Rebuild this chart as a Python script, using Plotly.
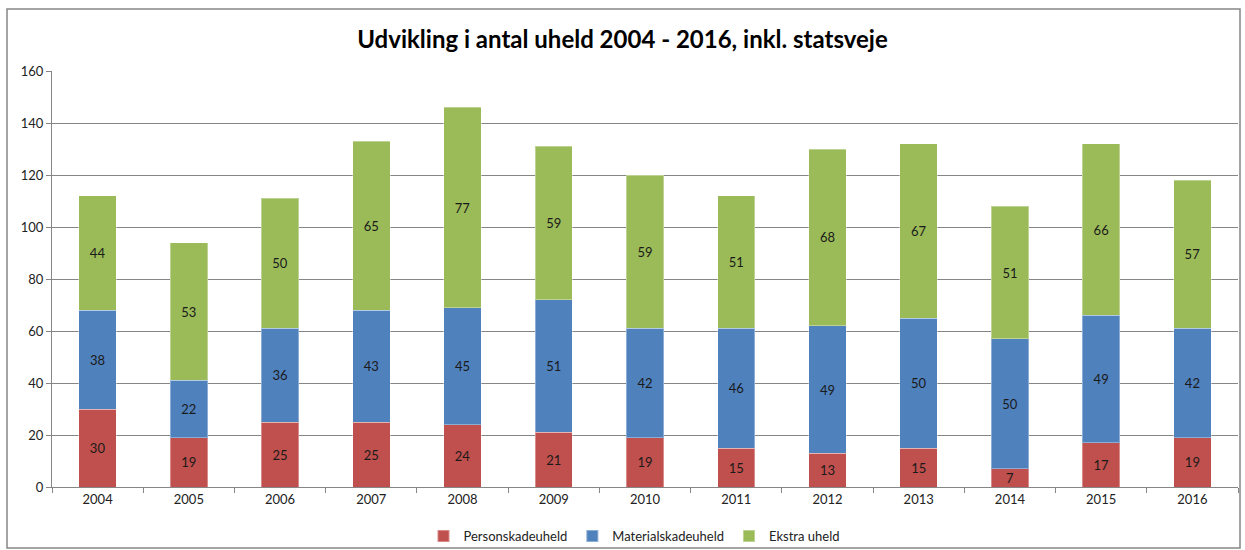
import plotly.graph_objects as go

years = ["2004", "2005", "2006", "2007", "2008", "2009", "2010", "2011", "2012", "2013", "2014", "2015", "2016"]
personskade = [30, 19, 25, 25, 24, 21, 19, 15, 13, 15, 7, 17, 19]
materialskade = [38, 22, 36, 43, 45, 51, 42, 46, 49, 50, 50, 49, 42]
ekstra = [44, 53, 50, 65, 77, 59, 59, 51, 68, 67, 51, 66, 57]

series = [
    ("Personskadeuheld", personskade, "#C0504D"),
    ("Materialskadeuheld", materialskade, "#4F81BD"),
    ("Ekstra uheld", ekstra, "#9BBB59"),
]

FONT = "Lato, Carlito, 'Open Sans', sans-serif"

fig = go.Figure()
for name, vals, color in series:
    fig.add_trace(go.Bar(
        x=years, y=vals, name=name,
        marker=dict(color=color, line=dict(color="rgba(255,255,255,0.35)", width=1)),
        text=vals, textposition="inside", insidetextanchor="middle", textangle=0,
        textfont=dict(color="#1a1a1a", size=13, family=FONT),
        constraintext="none",
    ))

W, H = 1245, 550
L, R, T, B = 52, 7, 71, 63
pw, ph = W - L - R, H - T - B

def px2x(px):
    return (px - L) / pw

def px2y(py):
    return (H - B - py) / ph

fig.update_layout(
    width=W, height=H,
    barmode="stack",
    bargap=0.59,
    margin=dict(l=L, r=R, t=T, b=B, autoexpand=False),
    paper_bgcolor="white",
    plot_bgcolor="white",
    font=dict(family=FONT, size=13, color="#222"),
    title=dict(text="<b>Udvikling i antal uheld 2004 - 2016, inkl. statsveje</b>",
               x=0.5, xanchor="center", y=1 - 40 / H, yanchor="middle",
               font=dict(size=24, color="#000", family=FONT)),
    legend=dict(orientation="h", x=px2x(634), xanchor="center", y=px2y(536), yanchor="middle",
                font=dict(size=13, color="#222"), itemsizing="constant",
                bgcolor="rgba(0,0,0,0)",
                traceorder="normal", itemwidth=30),
    xaxis=dict(showgrid=False, showline=True, linecolor="#868686", linewidth=1,
               ticks="outside", ticklen=5, tickcolor="#868686", tickson="boundaries",
               tickfont=dict(size=13, color="#222"), automargin=False),
    yaxis=dict(range=[0, 160], dtick=20, showgrid=True, gridcolor="#868686", gridwidth=1,
               showline=True, linecolor="#868686", linewidth=1,
               ticks="outside", ticklen=5, tickcolor="#868686",
               tickfont=dict(size=13, color="#222"), zeroline=False, automargin=False),
    shapes=[dict(type="rect", xref="paper", yref="paper",
                 x0=px2x(7), x1=px2x(1240), y0=px2y(548), y1=px2y(9),
                 line=dict(color="#868686", width=1.5), fillcolor="rgba(0,0,0,0)", layer="below")],
    showlegend=True,
)

fig.write_html("out.html", config={"displayModeBar": False},
               post_script="document.body.style.margin='0';document.body.style.overflow='hidden';")
